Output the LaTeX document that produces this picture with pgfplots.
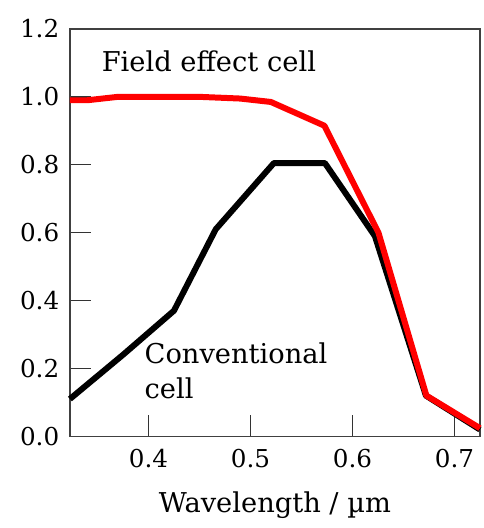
\documentclass[border=0pt]{standalone}
\usepackage{fontspec}
\setmainfont{DejaVu Serif}
\usepackage{pgfplots}
\pgfplotsset{compat=1.18}
\begin{document}
\fontsize{20.5}{26}\selectfont
\begin{tikzpicture}
\begin{axis}[
  scale only axis,
  width=308pt, height=306pt,
  xmin=0.323, xmax=0.725, ymin=0, ymax=1.2,
  xtick={0.4,0.5,0.6,0.7},
  ytick={0,0.2,0.4,0.6,0.8,1.0,1.2},
  xticklabels={0.4,0.5,0.6,0.7},
  yticklabels={0.0,0.2,0.4,0.6,0.8,1.0,1.2},
  tick pos=left,
  tick align=inside,
  major tick length=16pt,
  tick style={line width=1pt, black!80},
  axis line style={line width=1.2pt, black!75},
  /pgf/number format/assume math mode=true,
  tick label style={font=\fontsize{18.5}{22}\selectfont},
  xticklabel style={yshift=-3pt},
  yticklabel style={xshift=-1pt},
  xlabel={Wavelength / µm},
  label style={font=\fontsize{20.5}{26}\selectfont},
  xlabel style={yshift=-4pt},
  clip=false,
]
\addplot[black, line width=4.5pt, line join=round] coordinates {
 (0.323,0.11) (0.375,0.24) (0.425,0.37) (0.466,0.61) (0.523,0.805) (0.573,0.805) (0.622,0.59) (0.672,0.12) (0.725,0.02)
};
\addplot[red, line width=4.5pt, line join=round] coordinates {
 (0.323,0.99) (0.34,0.99) (0.37,1.0) (0.45,1.0) (0.49,0.995) (0.52,0.985) (0.5725,0.915) (0.6255,0.60) (0.6725,0.12) (0.725,0.024)
};
\node[anchor=west, inner sep=0pt] at (axis cs:0.354,1.105) {Field effect cell};
\node[anchor=north west, align=left, inner sep=0pt] at (axis cs:0.396,0.275) {Conventional\\cell};
\end{axis}
\path ([shift={(-52.5pt,-68.25pt)}]current axis.south west) rectangle ([shift={(2.25pt,21.75pt)}]current axis.north east);
\end{tikzpicture}
\end{document}
